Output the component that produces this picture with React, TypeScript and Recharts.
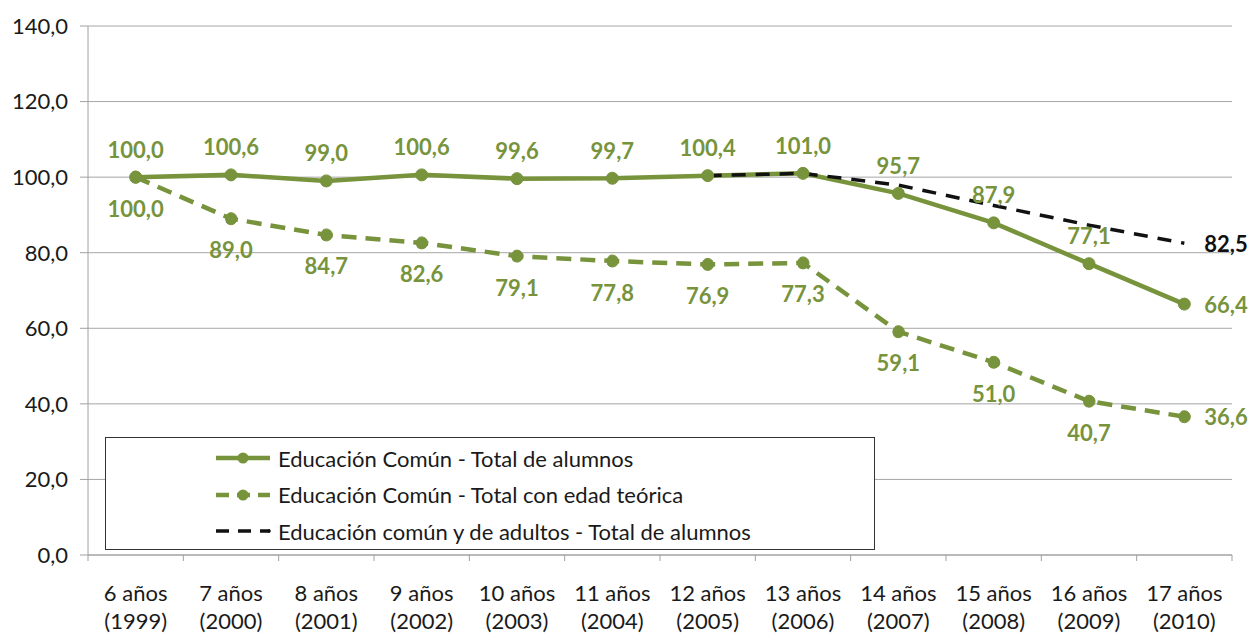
import React from 'react'
import { LineChart, Line, XAxis, YAxis, CartesianGrid, Legend } from 'recharts'

const categories = ['6 años', '7 años', '8 años', '9 años', '10 años', '11 años', '12 años', '13 años', '14 años', '15 años', '16 años', '17 años']
const years = ['(1999)', '(2000)', '(2001)', '(2002)', '(2003)', '(2004)', '(2005)', '(2006)', '(2007)', '(2008)', '(2009)', '(2010)']
const totalAlumnos = [100.0, 100.6, 99.0, 100.6, 99.6, 99.7, 100.4, 101.0, 95.7, 87.9, 77.1, 66.4]
const edadTeorica = [100.0, 89.0, 84.7, 82.6, 79.1, 77.8, 76.9, 77.3, 59.1, 51.0, 40.7, 36.6]
const adultos = [null, null, null, null, null, null, 100.4, 101.0, 97.9, 92.5, 87.3, 82.5]
const yTicks = [0, 20, 40, 60, 80, 100, 120, 140]

const GREEN = '#77933C'
const FONT = 'Lato, "Open Sans", sans-serif'
const last = categories.length - 1

const data = categories.map((c, i) => ({
  idx: i,
  totalAlumnos: totalAlumnos[i],
  edadTeorica: edadTeorica[i],
  adultos: adultos[i],
}))

const xTicks: number[] = []
for (let i = 0; i <= categories.length * 2; i++) xTicks.push(i / 2 - 0.5)

const fmt = (v: number) => v.toFixed(1).replace('.', ',')

function XTick({ x, y, payload }: any) {
  const v = payload.value
  if (!Number.isInteger(v)) {
    return <line x1={x} x2={x} y1={y - 6} y2={y} stroke="#a0a0a0" />
  }
  return (
    <text x={x} y={y} textAnchor="middle" fill="#1a1a1a" fontSize={22} fontFamily={FONT}>
      <tspan x={x} dy={40}>{categories[v]}</tspan>
      <tspan x={x} dy={28}>{years[v]}</tspan>
    </text>
  )
}

function makeLabel(color: string, where: 'above' | 'below', onlyLast = false) {
  return (props: any) => {
    const { x, y, value, index } = props
    if (value == null) return null
    if (onlyLast && index !== last) return null
    let tx = x
    let ty = where === 'above' ? y - 28 : y + 31
    let anchor: 'middle' | 'start' = 'middle'
    if (index === last) {
      tx = x + 20
      ty = y
      anchor = 'start'
    }
    return (
      <text
        key={`l-${index}`}
        x={tx}
        y={ty}
        textAnchor={anchor}
        dominantBaseline="central"
        fill={color}
        fontSize={22}
        fontWeight="bold"
        fontFamily={FONT}
      >
        {fmt(value)}
      </text>
    )
  }
}

const legendItems = [
  { label: 'Educación Común - Total de alumnos', color: GREEN, dash: undefined, width: 4.5, dot: 5.5 },
  { label: 'Educación Común - Total con edad teórica', color: GREEN, dash: '13 8', width: 4.5, dot: 5.5 },
  { label: 'Educación común y de adultos - Total de alumnos', color: '#111', dash: '13 9', width: 3.5, dot: 1.8 },
]

function LegendBox() {
  return (
    <div
      style={{
        width: 770,
        height: 113,
        border: '1.5px solid #333',
        background: '#fff',
        boxSizing: 'border-box',
        paddingTop: 2,
      }}
    >
      {legendItems.map((it) => (
        <div key={it.label} style={{ display: 'flex', alignItems: 'center', height: 36.5, marginLeft: 108 }}>
          <svg width={58} height={14} style={{ marginRight: 6, flexShrink: 0 }}>
            <line x1={2} x2={56} y1={7} y2={7} stroke={it.color} strokeWidth={it.width} strokeDasharray={it.dash} />
            <circle cx={it.dot > 2 ? 29 : 55} cy={7} r={it.dot} fill={it.color} />
          </svg>
          <span style={{ fontFamily: FONT, fontSize: 22, color: '#1a1a1a', whiteSpace: 'nowrap' }}>{it.label}</span>
        </div>
      ))}
    </div>
  )
}

export default function App() {
  return (
    <div style={{ position: 'absolute', left: 0, top: 0, background: '#fff' }}>
      <LineChart width={1256} height={633} data={data} margin={{ top: 26, right: 24, bottom: 0, left: 0 }}>
        <CartesianGrid vertical={false} stroke="#a6a6a6" />
        <XAxis
          dataKey="idx"
          type="number"
          domain={[-0.5, 11.5]}
          ticks={xTicks}
          interval={0}
          tickLine={false}
          tickSize={6}
          tickMargin={0}
          axisLine={{ stroke: '#a0a0a0' }}
          tick={<XTick />}
          height={78}
        />
        <YAxis
          width={88}
          domain={[0, 140]}
          ticks={yTicks}
          interval={0}
          tickSize={8}
          tickMargin={12}
          axisLine={{ stroke: '#a0a0a0' }}
          tickLine={{ stroke: '#a0a0a0' }}
          tickFormatter={fmt}
          tick={{ fill: '#1a1a1a', fontSize: 22, fontFamily: FONT }}
        />
        <Legend
          layout="vertical"
          align="center"
          verticalAlign="middle"
          content={<LegendBox />}
          wrapperStyle={{ left: 105, top: 437, width: 770, height: 113 }}
        />
        <Line
          dataKey="edadTeorica"
          stroke={GREEN}
          strokeWidth={4.5}
          strokeDasharray="15 9"
          dot={{ r: 6, fill: GREEN, stroke: GREEN, strokeWidth: 1 }}
          label={makeLabel(GREEN, 'below')}
          isAnimationActive={false}
        />
        <Line
          dataKey="totalAlumnos"
          stroke={GREEN}
          strokeWidth={4.5}
          dot={{ r: 6, fill: GREEN, stroke: GREEN, strokeWidth: 1 }}
          label={makeLabel(GREEN, 'above')}
          isAnimationActive={false}
        />
        <Line
          dataKey="adultos"
          stroke="#111"
          strokeWidth={3.5}
          strokeDasharray="14 10"
          dot={false}
          connectNulls={false}
          label={makeLabel('#111', 'above', true)}
          isAnimationActive={false}
        />
      </LineChart>
    </div>
  )
}
